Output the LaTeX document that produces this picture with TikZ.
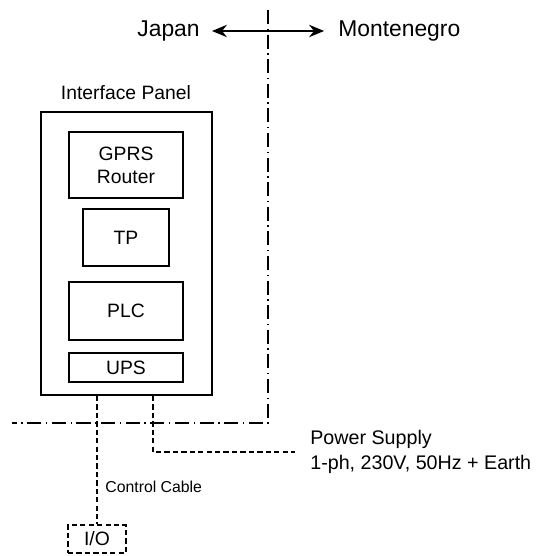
\documentclass[tikz,border=0pt]{standalone}
\usepackage{fontspec}
\setmainfont{Liberation Sans}
\usetikzlibrary{positioning,arrows.meta}

\begin{document}
\begin{tikzpicture}[
          b/.style={draw, line width=0.85pt, inner sep=0pt, align=center,
                    font=\fontsize{11}{13}\selectfont},
          w/.style={inner sep=0pt, font=\fontsize{13}{15}\selectfont},
          cab/.style={line width=1pt, dash pattern=on 3pt off 1.8pt},
          bd/.style={line width=0.8pt, dash pattern=on 8pt off 2.6pt on 0.8pt off 2.6pt}]
        \useasboundingbox (0,0) rectangle (10.76,11.12);
        % countries
        \node[w, anchor=east] (jp) at (4.0,10.5) {Japan};
        \node[w, anchor=west] (me) at (6.76,10.5) {Montenegro};
        \draw[{Stealth[length=8.5pt,width=7pt]}-{Stealth[length=8.5pt,width=7pt]}, line width=1.1pt,
              shorten <=6.8pt, shorten >=7.9pt] (jp) -- (me);
        % border
        \coordinate (bt) at (5.36,10.92);
        \coordinate (bc) at (5.36,2.66);
        \coordinate (bl) at (0.24,2.66);
        \draw[bd] (bt) -- (bc) -- (bl);
        % panel
        \node[draw, line width=1.1pt, minimum width=3.42cm, minimum height=5.66cm,
              inner sep=0pt] (panel) at (2.53,6.05) {};
        \node[font=\fontsize{11}{13}\selectfont] (title) at (2.52,9.26) {Interface Panel};
        \node[b, minimum width=2.28cm, minimum height=1.32cm] (gprs) at (2.52,7.82) {GPRS\\Router};
        \node[b, minimum width=1.72cm, minimum height=1.14cm] (tp) at (2.52,6.37) {TP};
        \node[b, minimum width=2.28cm, minimum height=1.16cm] (plc) at (2.52,4.90) {PLC};
        \node[b, minimum width=2.28cm, minimum height=0.58cm] (ups) at (2.52,3.77) {UPS};
        % cables
        \node[b, cab, minimum width=1.16cm, minimum height=0.56cm] (io) at (1.94,0.34) {I/O};
        \draw[cab] (io.north |- panel.south) -- (io.north);
        \node[anchor=west, inner sep=0pt, font=\fontsize{9}{11}\selectfont] (cc) at (2.1,1.38) {Control Cable};
        \coordinate (pwr) at (5.9,2.08);
        \draw[cab] (3.06,0 |- panel.south) |- (pwr);
        \node[anchor=west, align=left, inner sep=0pt, font=\fontsize{11.2}{14}\selectfont]
          (ps) at (6.2,2.08) {Power Supply\\1-ph, 230V, 50Hz + Earth};
      \end{tikzpicture}
\end{document}
